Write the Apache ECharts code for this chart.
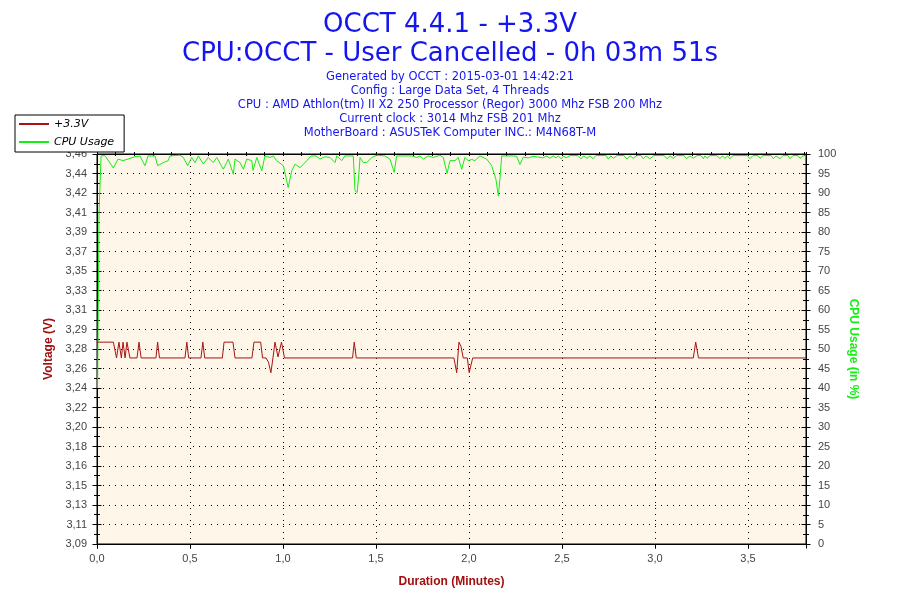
<!DOCTYPE html>
<html>
<head>
<meta charset="utf-8">
<script src="https://cdn.jsdelivr.net/npm/echarts@6/dist/echarts.min.js"></script>
<style>
html,body{margin:0;padding:0;background:#fff;}
#c{width:900px;height:600px;}
</style>
</head>
<body>
<div id="c"></div>
<script>
// ---- Texts ----
var titleMain = 'OCCT 4.4.1 - +3.3V';
var titleSub = 'CPU:OCCT - User Cancelled - 0h 03m 51s';
var infoLines = [
  'Generated by OCCT : 2015-03-01 14:42:21',
  'Config : Large Data Set, 4 Threads',
  'CPU : AMD Athlon(tm) II X2 250 Processor (Regor) 3000 Mhz FSB 200 Mhz',
  'Current clock : 3014 Mhz FSB 201 Mhz',
  'MotherBoard : ASUSTeK Computer INC.: M4N68T-M'
];
var seriesNames = ['+3.3V', 'CPU Usage'];

// ---- Axes ----
var voltMin = 3.0895, voltStep = 0.0185, voltMax = 3.4595;
var voltTickLabels = ['3,09','3,11','3,13','3,15','3,16','3,18','3,20','3,22','3,24','3,26','3,28',
                      '3,29','3,31','3,33','3,35','3,37','3,39','3,41','3,42','3,44','3,46'];
var cpuMin = 0, cpuMax = 100, cpuStep = 5;
var timeMin = 0, timeMax = 3.812, timeStep = 0.5, timeMinorStep = 0.1;

// ---- Voltage series (time in minutes, volts) ----
var voltTime = [0, 0.088, 0.105, 0.118, 0.131, 0.140, 0.151, 0.161, 0.177, 0.215, 0.226, 0.237,
  0.317, 0.326, 0.336, 0.473, 0.483, 0.493, 0.559, 0.569, 0.579, 0.674, 0.683, 0.731, 0.742,
  0.833, 0.844, 0.880, 0.890, 0.909, 0.922, 0.935, 0.946, 0.957, 0.973, 0.992, 1.008,
  1.374, 1.383, 1.394, 1.919, 1.934, 1.946, 1.957, 1.969, 1.991, 2.001, 2.020,
  3.206, 3.219, 3.234, 3.812];
var voltValue = [3.281, 3.281, 3.266, 3.281, 3.266, 3.281, 3.266, 3.281, 3.266, 3.266, 3.281, 3.266,
  3.266, 3.281, 3.266, 3.266, 3.281, 3.266, 3.266, 3.281, 3.266, 3.266, 3.281, 3.281, 3.266,
  3.266, 3.281, 3.281, 3.266, 3.266, 3.262, 3.252, 3.266, 3.281, 3.267, 3.281, 3.266,
  3.266, 3.281, 3.266, 3.266, 3.252, 3.281, 3.277, 3.266, 3.266, 3.252, 3.266,
  3.266, 3.281, 3.266, 3.266];

// ---- CPU usage series (time in minutes, %) ----
var cpuTime = [0.003, 0.011, 0.022, 0.043, 0.088, 0.113, 0.140, 0.167, 0.204, 0.231, 0.258, 0.274,
  0.312, 0.326, 0.356, 0.383, 0.392, 0.446, 0.464, 0.488, 0.509, 0.527, 0.545, 0.572, 0.598,
  0.625, 0.644, 0.679, 0.697, 0.706, 0.733, 0.742, 0.769, 0.787, 0.805, 0.832, 0.839, 0.859,
  0.886, 0.903, 0.930, 0.948, 0.966, 1.002, 1.028, 1.047, 1.065, 1.091, 1.109, 1.151, 1.177,
  1.199, 1.226, 1.253, 1.280, 1.289, 1.316, 1.333, 1.378, 1.387, 1.399, 1.410, 1.414, 1.432,
  1.450, 1.477, 1.504, 1.548, 1.575, 1.598, 1.611, 1.692, 1.719, 1.737, 1.754, 1.781, 1.808,
  1.844, 1.862, 1.882, 1.898, 1.925, 1.942, 1.961, 1.978, 1.996, 2.015, 2.032, 2.059, 2.095,
  2.122, 2.145, 2.158, 2.167, 2.176, 2.238, 2.256, 2.274, 2.292, 2.319, 2.345, 2.373,
  2.398, 2.418, 2.435, 2.453, 2.468, 2.480, 2.495, 2.511, 2.522, 2.543, 2.586, 2.602, 2.618,
  2.634, 2.651, 2.667, 2.683, 2.737, 2.749, 2.763, 2.776, 2.796, 2.833, 2.849, 2.866, 2.883,
  2.903, 2.925, 2.937, 2.952, 2.973, 2.995, 3.048, 3.065, 3.081, 3.098, 3.118, 3.156, 3.170,
  3.188, 3.206, 3.226, 3.247, 3.260, 3.269, 3.280, 3.296, 3.333, 3.349, 3.363, 3.376, 3.390,
  3.403, 3.419, 3.495, 3.511, 3.527, 3.554, 3.565, 3.581, 3.624, 3.636, 3.651, 3.672, 3.688,
  3.715, 3.726, 3.742, 3.769, 3.780, 3.796, 3.812];
var cpuValue = [40, 85, 99.5, 99.6, 96.4, 98.7, 98.3, 98.7, 99.3, 99.5, 97.0, 99.5,
  99.5, 97.0, 97.8, 98.3, 99.5, 99.7, 99.1, 97.0, 99.1, 97.8, 99.5, 97.4, 99.1,
  97.8, 99.1, 96.1, 97.8, 98.7, 94.8, 98.7, 97.8, 96.1, 98.7, 98.3, 95.8, 99.1,
  95.7, 99.5, 99.1, 99.5, 98.3, 97.0, 91.4, 95.7, 97.4, 96.5, 97.3, 99.5, 99.5,
  98.7, 99.3, 99.1, 97.8, 99.5, 98.3, 99.5, 99.5, 90.6, 90.1, 96.1, 99.1, 97.8,
  97.8, 99.1, 99.7, 99.5, 98.7, 95.3, 99.5, 99.5, 99.1, 99.5, 98.7, 99.5, 99.1,
  99.7, 99.1, 95.0, 98.3, 98.3, 99.1, 96.1, 99.1, 98.3, 98.6, 98.3, 99.5, 98.7,
  97.0, 93.5, 89.2, 94.0, 99.5, 99.5, 99.4, 97.3, 99.2, 99.0, 99.4, 99.2,
  99.0, 99.5, 98.9, 99.5, 99.0, 99.5, 98.8, 99.5, 99.0, 99.6, 99.6, 98.8, 99.5,
  98.9, 99.5, 98.8, 99.6, 99.6, 98.7, 99.5, 98.9, 99.6, 99.6, 98.7, 99.5, 98.9,
  99.6, 99.6, 98.8, 99.5, 98.8, 99.6, 99.6, 98.8, 99.5, 98.9, 99.6, 99.6, 98.8,
  99.5, 98.9, 99.6, 99.6, 98.8, 99.5, 98.9, 99.6, 99.6, 98.8, 99.5, 98.9, 99.5,
  98.8, 99.6, 99.6, 98.8, 99.6, 99.6, 98.9, 99.6, 99.6, 98.8, 99.5, 98.8, 99.6,
  99.6, 98.8, 99.6, 99.6, 98.9, 99.5, 99.6];

// ---- Style ----
var BLUE = '#1515ee', RED = '#a81414', GREEN = '#14ee14', DARKRED = '#a01010';
var labelStyle = { color: '#444', fontFamily: 'Liberation Sans', fontSize: 11 };

function zip(a, b) { return a.map(function (t, i) { return [t, b[i]]; }); }

var gridBox = { left: 97, right: 94, top: 154, bottom: 56 };

function xAx(interval, inside, len, extra) {
  var o = {
    type: 'value', gridIndex: 0, min: timeMin, max: timeMax, interval: interval,
    axisLine: { show: !inside, lineStyle: { color: '#000', width: 1 } },
    axisTick: { show: true, inside: inside, length: len, lineStyle: { color: '#000', width: 1 } },
    axisLabel: { show: false }, splitLine: { show: false }, minorTick: { show: false }
  };
  for (var k in extra) o[k] = extra[k];
  return o;
}

function yAx(pos, min, max, step, inside, extra) {
  var o = {
    type: 'value', position: pos, min: min, max: max, interval: step,
    axisLine: { show: !inside, onZero: false, lineStyle: { color: '#000', width: 1 } },
    axisTick: { show: true, inside: inside, length: 4.5, lineStyle: { color: '#000', width: 1 } },
    minorTick: { show: true, splitNumber: 2, length: 3, lineStyle: { color: '#000', width: 1 } },
    axisLabel: { show: false }, splitLine: { show: false }
  };
  for (var k in extra) o[k] = extra[k];
  return o;
}

var titles = [
  { text: titleMain, left: 'center', top: 7, textStyle: { color: BLUE, fontFamily: 'DejaVu Sans', fontSize: 26, fontWeight: 'normal' } },
  { text: titleSub, left: 'center', top: 36, textStyle: { color: BLUE, fontFamily: 'DejaVu Sans', fontSize: 26, fontWeight: 'normal' } }
];
infoLines.forEach(function (t, i) {
  titles.push({ text: t, left: 'center', top: 71 + i * 14, padding: 0,
    textStyle: { color: BLUE, fontFamily: 'DejaVu Sans', fontSize: 11.5, fontWeight: 'normal' } });
});

var chart = echarts.init(document.getElementById('c'), null, { renderer: 'canvas' });
chart.setOption({
  animation: false,
  backgroundColor: '#ffffff',
  title: titles,
  legend: {
    orient: 'vertical', left: 15, top: 115,
    padding: [2, 10, 3, 4], itemGap: 4, itemWidth: 30, itemHeight: 2,
    backgroundColor: '#ffffff', borderColor: '#000', borderWidth: 1, borderRadius: 0,
    icon: 'rect', z: 10,
    textStyle: { color: '#000', fontFamily: 'DejaVu Sans', fontSize: 11, fontStyle: 'italic', lineHeight: 14 },
    data: seriesNames
  },
  grid: Object.assign({ show: true, backgroundColor: '#fdf6e9', borderColor: '#000', borderWidth: 1, containLabel: false }, gridBox),
  xAxis: [
    xAx(timeStep, false, 4.5, {
      name: 'Duration (Minutes)', nameLocation: 'middle', nameGap: 32,
      nameTextStyle: { color: DARKRED, fontFamily: 'Liberation Sans', fontSize: 12, fontWeight: 'bold' },
      axisLabel: Object.assign({ show: true, margin: 9, showMaxLabel: false,
        formatter: function (v) {
          var r = Math.round(v / timeStep);
          if (Math.abs(r * timeStep - v) > 1e-6) return '';
          return (r * timeStep).toFixed(1).replace('.', ',');
        } }, labelStyle),
      splitLine: { show: true, lineStyle: { color: '#000', width: 1, type: [1, 5] } }
    }),
    xAx(timeStep, true, 4.5, {}),
    xAx(timeMinorStep, false, 2, {}),
    xAx(timeMinorStep, true, 2, {})
  ],
  yAxis: [
    yAx('left', voltMin, voltMax, voltStep, false, {
      name: 'Voltage (V)', nameLocation: 'middle', nameGap: 40,
      nameTextStyle: { color: DARKRED, fontFamily: 'Liberation Sans', fontSize: 12, fontWeight: 'bold' },
      axisLabel: Object.assign({ show: true, margin: 10,
        formatter: function (v) {
          var i = Math.round((v - voltMin) / voltStep);
          return voltTickLabels[i] !== undefined ? voltTickLabels[i] : '';
        } }, labelStyle),
      splitLine: { show: true, lineStyle: { color: '#000', width: 1, type: [1, 5] } }
    }),
    yAx('right', cpuMin, cpuMax, cpuStep, false, {
      name: 'CPU Usage (in %)', nameLocation: 'middle', nameGap: 36, nameRotate: -90,
      nameTextStyle: { color: GREEN, fontFamily: 'Liberation Sans', fontSize: 12, fontWeight: 'bold' },
      axisLabel: Object.assign({ show: true, margin: 12 }, labelStyle)
    }),
    yAx('left', voltMin, voltMax, voltStep, true, {}),
    yAx('right', cpuMin, cpuMax, cpuStep, true, {})
  ],
  series: [
    {
      name: seriesNames[1], type: 'line', xAxisIndex: 0, yAxisIndex: 1,
      data: zip(cpuTime, cpuValue), showSymbol: false, symbol: 'none',
      lineStyle: { color: GREEN, width: 1 }, itemStyle: { color: GREEN }, z: 3
    },
    {
      name: seriesNames[0], type: 'line', xAxisIndex: 0, yAxisIndex: 0,
      data: zip(voltTime, voltValue), showSymbol: false, symbol: 'none',
      lineStyle: { color: RED, width: 1 }, itemStyle: { color: RED }, z: 4
    }
  ]
});
</script>
</body>
</html>
